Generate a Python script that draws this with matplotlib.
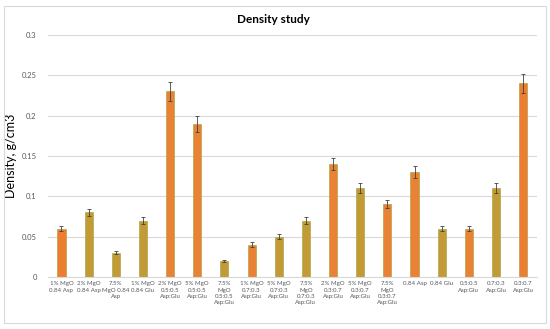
import matplotlib.pyplot as plt
from matplotlib.patches import Rectangle

labels = ["1% MgO\n0.84 Asp", "2% MgO\n0.84 Asp", "7.5%\nMgO 0.84\nAsp", "1% MgO\n0.84 Glu",
          "2% MgO\n0.5:0.5\nAsp:Glu", "5% MgO\n0.5:0.5\nAsp:Glu", "7.5%\nMgO\n0.5:0.5\nAsp:Glu",
          "1% MgO\n0.7:0.3\nAsp:Glu", "5% MgO\n0.7:0.3\nAsp:Glu", "7.5%\nMgO\n0.7:0.3\nAsp:Glu",
          "2% MgO\n0.3:0.7\nAsp:Glu", "5% MgO\n0.3:0.7\nAsp:Glu", "7.5%\nMgO\n0.3:0.7\nAsp:Glu",
          "0.84 Asp", "0.84 Glu", "0.5:0.5\nAsp:Glu", "0.7:0.3\nAsp:Glu", "0.3:0.7\nAsp:Glu"]
density = [0.06, 0.08, 0.03, 0.07, 0.23, 0.19, 0.02, 0.04, 0.05, 0.07,
           0.14, 0.11, 0.09, 0.13, 0.06, 0.06, 0.11, 0.24]
errors = [0.003, 0.004, 0.002, 0.004, 0.012, 0.01, 0.001, 0.003, 0.003, 0.004,
          0.007, 0.006, 0.005, 0.007, 0.003, 0.003, 0.006, 0.012]
colors = ['#ED7D31', '#C29A36', '#C29A36', '#C29A36', '#E98235', '#E98235', '#C29A36', '#E98235', '#C29A36',
          '#C29A36', '#E98235', '#C29A36', '#E98235', '#E98235', '#C29A36', '#E98235', '#C29A36', '#ED7D31']

plt.rcParams['font.family'] = ['Lato', 'DejaVu Sans']

fig = plt.figure(figsize=(5.5, 3.29), dpi=100)
ax = fig.add_axes([0.087, 0.158, 0.889, 0.736])

x = range(len(labels))
ax.bar(x, density, width=0.3, color=colors, edgecolor='#A0A030', linewidth=0.4, zorder=2)
ax.errorbar(x, density, yerr=errors, fmt='none', ecolor='#404040', elinewidth=0.6,
            capsize=1.5, capthick=0.6, zorder=3)

ax.set_xlim(-0.5, len(labels) - 0.5)
ax.set_ylim(0, 0.3)
ax.set_yticks([0, 0.05, 0.1, 0.15, 0.2, 0.25, 0.3])
ax.set_yticklabels(['0', '0.05', '0.1', '0.15', '0.2', '0.25', '0.3'])
ax.set_xticks(list(x))
ax.set_xticklabels(labels, fontsize=4.4, color='#595959', va='top', linespacing=1.35)
ax.tick_params(axis='y', labelsize=5.5, labelcolor='#595959', length=0, pad=8)
ax.tick_params(axis='x', length=0, pad=3)
ax.grid(axis='y', color='#D9D9D9', linewidth=0.8, zorder=0)
for s in ['top', 'right', 'left']:
    ax.spines[s].set_visible(False)
ax.spines['bottom'].set_color('#D9D9D9')

ax.set_ylabel('Density, g/cm3', fontsize=9, color='#000000', labelpad=3)
fig.text(0.498, 0.94, 'Density study', ha='center', va='center', fontsize=8.5, fontweight='bold')

fig.patches.append(Rectangle((0.008, 0.018), 0.984, 0.965, transform=fig.transFigure,
                             fill=False, edgecolor='#D9D9D9', linewidth=0.8))

fig.savefig('out.png', dpi=100)
